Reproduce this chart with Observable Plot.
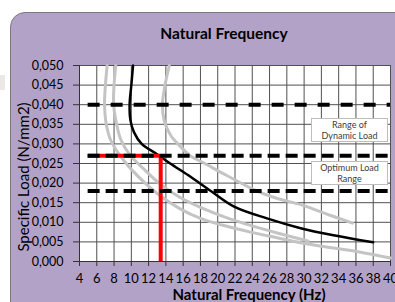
<!DOCTYPE html>
<html>
<head>
<meta charset="utf-8">
<script src="https://cdn.jsdelivr.net/npm/d3@7"></script>
<script src="https://cdn.jsdelivr.net/npm/@observablehq/plot@0.6"></script>
<style>
  html, body { margin: 0; padding: 0; background: #fff; }
  #wrap { position: relative; width: 395px; height: 302px; overflow: hidden; background: #fff; font-family: Lato, "Open Sans", sans-serif; }
  #panel { position: absolute; left: 10px; top: 12px; width: 420px; height: 320px; background: #B3A2C7; border: 1px solid #7a7a7a; border-radius: 15px; box-sizing: border-box; }
  #smudge { position: absolute; left: 0; top: 75px; width: 5px; height: 15px; background: #ECE8E6; }
  #chart { position: absolute; left: 0; top: 0; }
  .title { position: absolute; font-weight: bold; color: #000; white-space: nowrap; transform: translate(-50%, -50%); }
  .ylab { position: absolute; color: #000; white-space: nowrap; transform: translate(-50%, -50%) rotate(-90deg); }
  .note { position: absolute; background: #fff; border: 1px solid #bdbdbd; color: #404040; font-size: 9px; line-height: 11px; text-align: center; box-sizing: border-box; display: flex; align-items: center; justify-content: center; }
</style>
</head>
<body>
<div id="wrap">
  <div id="panel"></div>
  <div id="smudge"></div>
  <div id="chart"></div>
</div>
<script>
// ---- data ----
const xTickValues = [4, 6, 8, 10, 12, 14, 16, 18, 20, 22, 24, 26, 28, 30, 32, 34, 36, 38, 40];
const yTickValues = [0, 0.005, 0.010, 0.015, 0.020, 0.025, 0.030, 0.035, 0.040, 0.045, 0.050];

// black (main) curve
const mainFreq = [10.2, 10.0, 9.8, 9.9, 10.3, 11.2, 12.9, 14.5, 16.6, 19.2, 21.9, 25.7, 29.6, 33.4, 38.0];
const mainLoad = [0.050, 0.045, 0.040, 0.036, 0.033, 0.030, 0.0275, 0.025, 0.022, 0.018, 0.014, 0.011, 0.0085, 0.0067, 0.0049];

// grey curves
const grey1Freq = [7.2, 7.0, 6.9, 7.1, 7.6, 8.7, 10.0, 11.6, 13.5, 15.6, 18.0, 20.5, 23.8, 27.0, 29.6, 32.0, 35.4, 40.0];
const grey1Load = [0.050, 0.045, 0.040, 0.035, 0.031, 0.027, 0.0235, 0.020, 0.0165, 0.0135, 0.011, 0.0093, 0.0075, 0.006, 0.0048, 0.0039, 0.0028, 0.0009];
const grey2Freq = [8.2, 8.0, 7.95, 8.3, 8.8, 9.9, 11.5, 13.2, 15.5, 18.0, 21.0, 23.8, 27.0, 30.5];
const grey2Load = [0.050, 0.045, 0.040, 0.035, 0.031, 0.027, 0.0235, 0.020, 0.0165, 0.0138, 0.0112, 0.0092, 0.0072, 0.0052];
const grey3Freq = [14.4, 13.9, 13.6, 13.8, 14.6, 15.4, 16.8, 18.5, 21.0, 24.5, 27.0, 29.6, 33.0, 35.6];
const grey3Load = [0.050, 0.045, 0.040, 0.036, 0.032, 0.030, 0.027, 0.025, 0.022, 0.018, 0.016, 0.0145, 0.0118, 0.0098];

// load levels (dashed) and operating point (red)
const rangeLevels = [0.040, 0.027, 0.018];
const rangeStartFreq = 5;
const operatingFreq = 13.4;
const operatingLoad = 0.027;

const rangeNotes = ["Range of\nDynamic Load", "Optimum Load\nRange"];
const rangeNoteLow = [0.027, 0.018];
const rangeNoteHigh = [0.040, 0.027];

// ---- build tables ----
const toPts = (fs, ls) => fs.map((f, i) => ({f, l: ls[i]}));
const mainPts = toPts(mainFreq, mainLoad);
const greyPts = [toPts(grey1Freq, grey1Load), toPts(grey2Freq, grey2Load), toPts(grey3Freq, grey3Load)];

const commaFmt = d3.formatLocale({decimal: ",", thousands: ".", grouping: [3], currency: ["", ""]}).format(".3f");

const W = 395, H = 302;
const chart = Plot.plot({
  width: W, height: H,
  marginLeft: 79, marginRight: 5, marginTop: 65, marginBottom: 41,
  x: {domain: [4, 40]},
  y: {domain: [0, 0.05]},
  style: {background: "transparent", fontFamily: "Lato, 'Open Sans', sans-serif", fontSize: "12.5px", color: "#000", overflow: "visible"},
  marks: [
    Plot.frame({fill: "white", stroke: null}),
    Plot.gridX(xTickValues, {stroke: "#505050", strokeOpacity: 1, strokeWidth: 1}),
    Plot.gridY(yTickValues, {stroke: "#505050", strokeOpacity: 1, strokeWidth: 1}),
    ...greyPts.map(pts => Plot.line(pts, {x: "f", y: "l", stroke: "#C4C4C4", strokeWidth: 3, curve: "catmull-rom"})),
    Plot.line(mainPts, {x: "f", y: "l", stroke: "#000", strokeWidth: 2.5, curve: "catmull-rom"}),
    Plot.ruleY([operatingLoad], {x1: rangeStartFreq, x2: operatingFreq, stroke: "#FF0000", strokeWidth: 4}),
    Plot.ruleX([operatingFreq], {y1: 0, y2: operatingLoad, stroke: "#FF0000", strokeWidth: 4}),
    Plot.ruleY([rangeLevels[0]], {x1: rangeStartFreq, x2: 40, stroke: "#000", strokeWidth: 4, strokeDasharray: "12,11"}),
    Plot.ruleY(rangeLevels.slice(1), {x1: rangeStartFreq, x2: 40, stroke: "#000", strokeWidth: 4, strokeDasharray: "12,6"}),
    Plot.axisX(xTickValues, {tickSize: 5, tickPadding: 7, label: null, stroke: "#333", fontSize: 13}),
    Plot.axisY(yTickValues, {tickSize: 6, tickPadding: 10, label: null, stroke: "#333", tickFormat: commaFmt, fontSize: 12.5}),
    Plot.ruleX([4], {stroke: "#333"}),
    Plot.ruleY([0], {stroke: "#333"})
  ]
});
document.getElementById("chart").appendChild(chart);

const wrap = document.getElementById("wrap");
const xs = chart.scale("x"), ys = chart.scale("y");
const [xr0, xr1] = xs.range;

function addDiv(cls, text, css) {
  const d = document.createElement("div");
  d.className = cls;
  d.textContent = text;
  Object.assign(d.style, css);
  wrap.appendChild(d);
  return d;
}
addDiv("title", "Natural Frequency", {left: "224px", top: "33px", fontSize: "15.5px"});
addDiv("title", "Natural Frequency (Hz)", {left: "249px", top: "294px", fontSize: "15px"});
addDiv("ylab", "Specific Load (N/mm2)", {left: "23px", top: "177px", fontSize: "15px"});

rangeNotes.forEach((t, i) => {
  const cy = ys.apply((rangeNoteLow[i] + rangeNoteHigh[i]) / 2);
  const n = addDiv("note", "", {left: (xr1 - 79) + "px", top: (cy - 12) + "px", width: "77px", height: "24px"});
  n.innerHTML = t.split("\n").join("<br>");
});
</script>
</body>
</html>
